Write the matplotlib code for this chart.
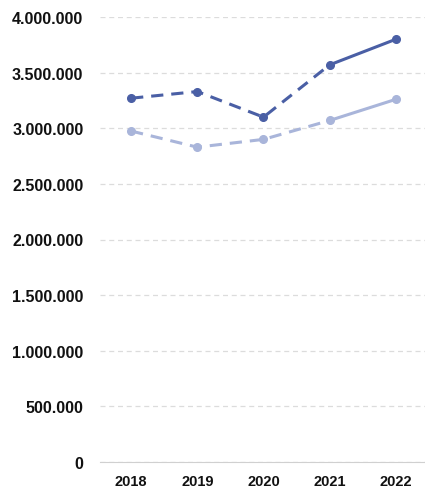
import matplotlib
matplotlib.use("Agg")
import matplotlib.pyplot as plt
from matplotlib.ticker import FuncFormatter

# dados
anos = ["2018", "2019", "2020", "2021", "2022"]
serie_escura = [3270000, 3330000, 3100000, 3570000, 3800000]
serie_clara = [2975000, 2830000, 2900000, 3070000, 3260000]
yticks = [0, 500000, 1000000, 1500000, 2000000, 2500000, 3000000, 3500000, 4000000]

COR_ESCURA = "#4a5fa5"
COR_CLARA = "#a9b5da"

plt.rcParams["font.family"] = ["Liberation Sans", "DejaVu Sans"]

fig = plt.figure(figsize=(4.25, 4.89), dpi=100)
ax = fig.add_axes([100 / 425, 26 / 489, 325 / 425, 445 / 489])

x = list(range(len(anos)))
for vals, cor in [(serie_clara, COR_CLARA), (serie_escura, COR_ESCURA)]:
    # trecho tracejado (estimado) e trecho sólido (último ano)
    ax.plot(x[:4], vals[:4], color=cor, lw=2.2, ls=(0, (4, 2.6)), zorder=3,
            solid_capstyle="butt")
    ax.plot(x[3:], vals[3:], color=cor, lw=2.2, zorder=3)
    ax.plot(x, vals, ls="none", marker="o", ms=5.5, color=cor, zorder=4,
            clip_on=False)

ax.set_xlim(-0.47, 4.44)
ax.set_ylim(0, 4000000)
ax.set_xticks(x)
ax.set_xticklabels(anos)
ax.set_yticks(yticks)
ax.yaxis.set_major_formatter(FuncFormatter(lambda v, p: f"{int(v):,}".replace(",", ".")))

ax.grid(axis="y", color="#dcdcdc", lw=0.9, ls=(0, (4, 3)))
ax.set_axisbelow(True)
for s in ["top", "right", "left"]:
    ax.spines[s].set_visible(False)
ax.spines["bottom"].set_color("#d0d0d0")
ax.tick_params(axis="both", length=0, labelcolor="#111111")
ax.tick_params(axis="y", pad=12, labelsize=11.5)
ax.tick_params(axis="x", pad=9, labelsize=10.5)
for lbl in ax.get_xticklabels() + ax.get_yticklabels():
    lbl.set_fontweight("bold")

fig.savefig("out.png", dpi=100)
